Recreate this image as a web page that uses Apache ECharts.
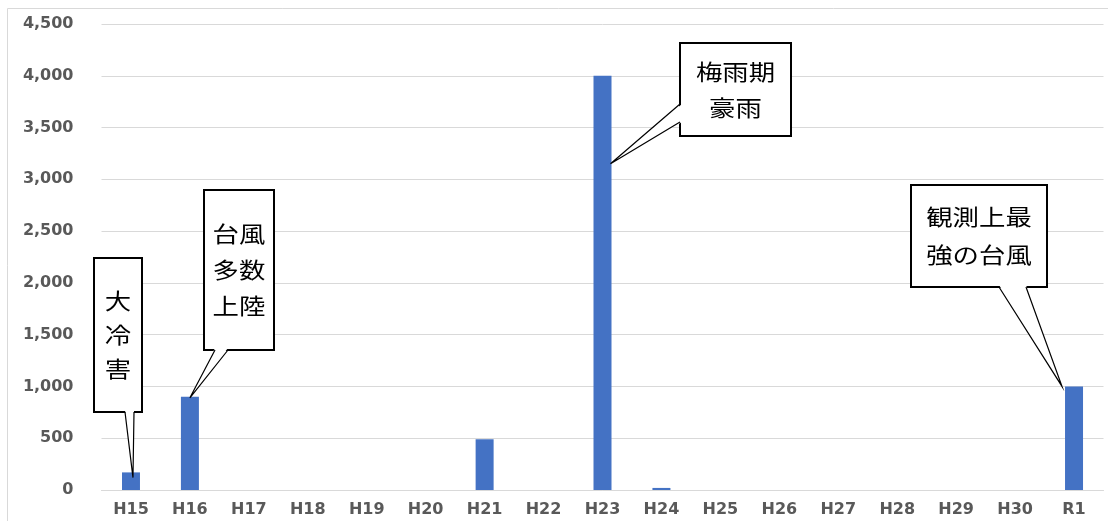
<!DOCTYPE html>
<html>
<head>
<meta charset="utf-8">
<script src="https://cdn.jsdelivr.net/npm/echarts@6/dist/echarts.min.js"></script>
<style>
  html, body { margin: 0; padding: 0; background: #fff; }
  #chart { width: 1108px; height: 521px; }
</style>
</head>
<body>
<div id="chart"></div>
<script>
// 年度
var categories = ['H15', 'H16', 'H17', 'H18', 'H19', 'H20', 'H21', 'H22', 'H23',
                  'H24', 'H25', 'H26', 'H27', 'H28', 'H29', 'H30', 'R1'];
// 被害額
var values = [170, 900, 0, 0, 0, 0, 490, 0, 4000, 20, 0, 0, 0, 0, 0, 0, 1000];
var yTicks = [0, 500, 1000, 1500, 2000, 2500, 3000, 3500, 4000, 4500];

// 吹き出し (box = 画面上の枠, tip = 指し示すデータ位置)
var callouts = [
  { lines: ['大', '冷', '害'], box: [94, 258, 48, 154], lh: 34, base: 'bottom', b: [125, 134], tip: ['H15', 120], dx: 2 },
  { lines: ['台風', '多数', '上陸'], box: [204, 190, 70, 160], lh: 36, base: 'bottom', b: [215, 228], tip: ['H16', 890], dx: 0 },
  { lines: ['梅雨期', '豪雨'], box: [680, 43, 111, 93], lh: 36, base: 'left', b: [104, 122], tip: ['H23', 3150], dx: 8 },
  { lines: ['観測上最', '強の台風'], box: [911, 185, 136, 102], lh: 38, base: 'bottom', b: [999, 1026], tip: ['R1', 1000], dx: -12 }
];

var chart = echarts.init(document.getElementById('chart'));
var axisFont = 'DejaVu Sans, Verdana, sans-serif';

chart.setOption({
  animation: false,
  grid: { left: 101.5, right: 4.5, top: 24, bottom: 31, containLabel: false },
  xAxis: {
    type: 'category',
    data: categories,
    axisLine: { lineStyle: { color: '#d9d9d9' } },
    axisTick: { show: false },
    axisLabel: { color: '#595959', fontWeight: 'bold', fontSize: 16, fontFamily: axisFont, margin: 12 }
  },
  yAxis: {
    type: 'value',
    min: 0,
    max: yTicks[yTicks.length - 1],
    interval: 500,
    axisLine: { show: false },
    axisTick: { show: false },
    splitLine: { lineStyle: { color: '#d9d9d9' } },
    axisLabel: {
      color: '#595959', fontWeight: 'bold', fontSize: 16, fontFamily: axisFont, margin: 28,
      formatter: function (v) { return v.toLocaleString('en-US'); }
    }
  },
  series: [{
    type: 'bar',
    data: values,
    barWidth: 18,
    itemStyle: { color: '#4472C4' }
  }]
});

function buildCallouts() {
  var els = [{
    type: 'rect', z: 0, silent: true,
    shape: { x: 7.5, y: 8.5, width: 1200, height: 600 },
    style: { fill: 'none', stroke: '#d9d9d9', lineWidth: 1 }
  }];
  callouts.forEach(function (c) {
    var p = chart.convertToPixel({ seriesIndex: 0 }, c.tip);
    var tx = p[0] + c.dx, ty = p[1];
    var x = c.box[0], y = c.box[1], w = c.box[2], h = c.box[3];
    var p1, p2, q1, q2;
    if (c.base === 'bottom') {
      p1 = [c.b[0], y + h]; p2 = [c.b[1], y + h];
      q1 = [c.b[0], y + h - 2]; q2 = [c.b[1], y + h - 2];
    } else {
      p1 = [x, c.b[0]]; p2 = [x, c.b[1]];
      q1 = [x + 2, c.b[0]]; q2 = [x + 2, c.b[1]];
    }
    els.push({
      type: 'rect', z: 100, silent: true,
      shape: { x: x, y: y, width: w, height: h },
      style: { fill: '#fff', stroke: '#000', lineWidth: 2 }
    });
    els.push({
      type: 'polygon', z: 101, silent: true,
      shape: { points: [q1, [tx, ty], q2] },
      style: { fill: '#fff' }
    });
    els.push({
      type: 'polyline', z: 102, silent: true,
      shape: { points: [p1, [tx, ty], p2] },
      style: { fill: null, stroke: '#000', lineWidth: 1.2 }
    });
    els.push({
      type: 'text', z: 103, silent: true,
      x: x + w / 2, y: y + h / 2,
      scaleX: 1.2,
      style: {
        text: c.lines.join('\n'),
        font: '22px "Noto Sans CJK JP", sans-serif',
        lineHeight: c.lh,
        fill: '#000',
        align: 'center',
        verticalAlign: 'middle'
      }
    });
  });
  chart.setOption({ graphic: els });
}
buildCallouts();
</script>
</body>
</html>
